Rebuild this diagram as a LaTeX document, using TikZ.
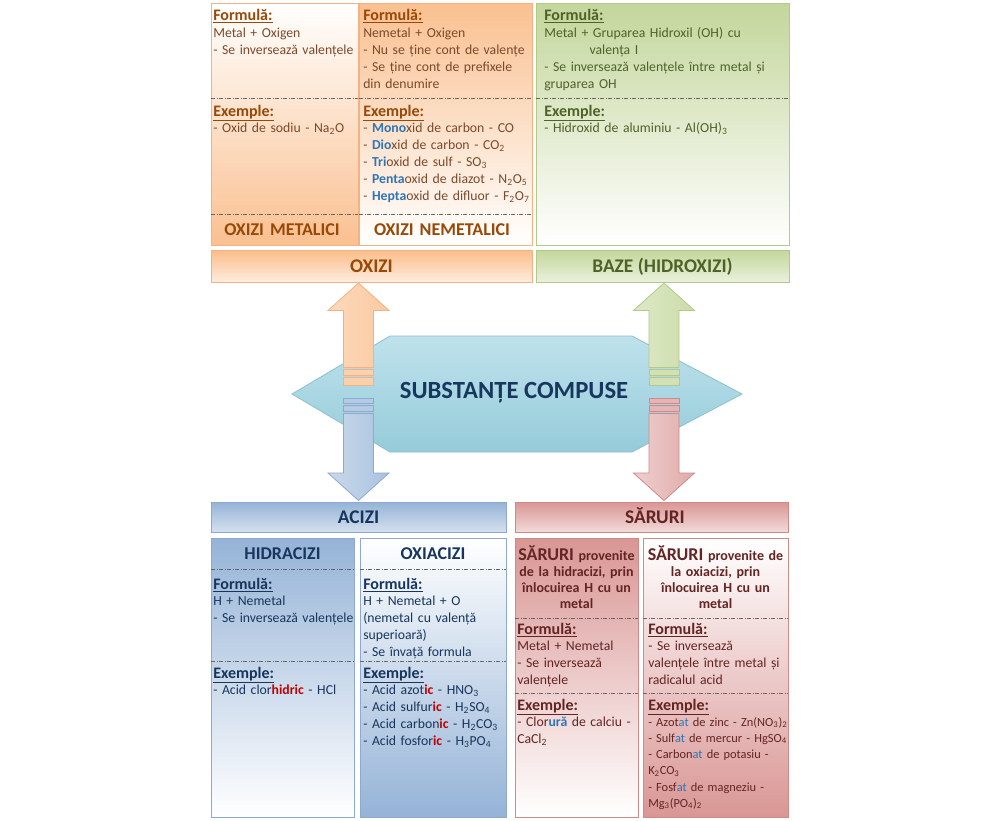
\documentclass[tikz,border=0pt]{standalone}
\usepackage{fontspec}
\setmainfont{Carlito}
\usetikzlibrary{shadows}

% palette
\definecolor{orF}{HTML}{FAC090}
\definecolor{orL}{HTML}{F4B183}
\definecolor{orT}{HTML}{984807}
\definecolor{orB}{HTML}{7A4A2B}
\definecolor{grF}{HTML}{C3D69B}
\definecolor{grL}{HTML}{B3C98A}
\definecolor{grT}{HTML}{4F6228}
\definecolor{blF}{HTML}{95B3D7}
\definecolor{blL}{HTML}{8EA9CF}
\definecolor{blT}{HTML}{17365D}
\definecolor{rdF}{HTML}{D99694}
\definecolor{rdL}{HTML}{CF8A88}
\definecolor{rdT}{HTML}{632523}
\definecolor{hexTop}{HTML}{BEE2EC}
\definecolor{hexBot}{HTML}{96CBDA}
\definecolor{hexL}{HTML}{8CC0CF}
\definecolor{hexT}{HTML}{17375E}
\definecolor{prefblue}{HTML}{2E75B6}
\definecolor{prefred}{HTML}{C00000}

% text helpers
\newcommand\hd[1]{{\fontsize{12}{12.7}\selectfont\bfseries\underline{#1}}}
\newcommand\pb[1]{{\bfseries\color{prefblue}#1}}
\newcommand\pc[1]{{\color{prefblue}#1}}
\newcommand\rc[1]{{\bfseries\color{prefred}#1}}
\newcommand\bigsar{\fontsize{13.5}{12}\selectfont}
\newcommand\chs[1]{\textsubscript{#1}}

\tikzset{
  cardbox/.style={line width=0.6pt, drop shadow={opacity=0.22, shadow xshift=0.7pt, shadow yshift=-0.9pt}},
  sepline/.style={line width=0.55pt, draw=black!60, dash pattern=on 3pt off 1.2pt on 0.6pt off 1.2pt},
  bodytxt/.style={inner sep=0pt, anchor=base west, text width=200pt, align=left, font=\fontsize{10.3}{12.7}\selectfont},
  smalltxt/.style={inner sep=0pt, anchor=base west, text width=200pt, align=left, font=\fontsize{9.3}{12.2}\selectfont},
  cardtitle/.style={inner sep=0pt, anchor=base, text width=150pt, align=center, font=\fontsize{13.5}{15}\selectfont\bfseries},
  saltitle/.style={inner sep=0pt, anchor=base, text width=110pt, align=center, font=\fontsize{10.5}{12}\selectfont\bfseries},
  bartitle/.style={inner sep=0pt, anchor=base, font=\fontsize{14.5}{16}\selectfont\bfseries},
  blockarrow/.style={line width=0.6pt},
}

\begin{document}
\begin{tikzpicture}[x=0.75pt,y=-0.75pt]
\fill[white] (0,0) rectangle (1000,821);
\useasboundingbox (0,0) rectangle (1000,821);

% ---------- top cards ----------
\path[cardbox, draw=orL, top color=white, bottom color=orF] (211,3) rectangle (358,245);
\path[cardbox, draw=orL, top color=orF, bottom color=white] (359,3) rectangle (532,245);
\path[cardbox, draw=grL, top color=grF, bottom color=white] (536,3) rectangle (789,245);
\draw[sepline] (211,98) -- (358,98);
\draw[sepline] (211,214) -- (358,214);
\draw[sepline] (359,98) -- (532,98);
\draw[sepline] (359,214) -- (532,214);
\draw[sepline] (536,98) -- (789,98);

\node[bodytxt, text=orB] (tlF) at (213,20.7) {\textcolor{orT}{\hd{Formulă:}}\\Metal + Oxigen\\- Se inversează valențele};
\node[bodytxt, text=orB] (tlE) at (213,116) {\textcolor{orT}{\hd{Exemple:}}\\- Oxid de sodiu - Na\chs{2}O};
\node[cardtitle, text=orT] (tlT) at (282,235) {OXIZI METALICI};

\node[bodytxt, text=orB] (tmF) at (363,20.7) {\textcolor{orT}{\hd{Formulă:}}\\Nemetal + Oxigen\\- Nu se ține cont de valențe\\- Se ține cont de prefixele\\din denumire};
\node[bodytxt, text=orB] (tmE) at (363,116) {\textcolor{orT}{\hd{Exemple:}}\\- \pb{Mono}xid de carbon - CO\\- \pb{Dio}xid de carbon - CO\chs{2}\\- \pb{Tri}oxid de sulf - SO\chs{3}\\- \pb{Penta}oxid de diazot - N\chs{2}O\chs{5}\\- \pb{Hepta}oxid de difluor - F\chs{2}O\chs{7}};
\node[cardtitle, text=orT] (tmT) at (442,235) {OXIZI NEMETALICI};

\node[bodytxt, text=grT] (trF) at (544,20.7) {\hd{Formulă:}\\Metal + Gruparea Hidroxil (OH) cu\\\hspace*{34pt}valența I\\- Se inversează valențele între metal și\\gruparea OH};
\node[bodytxt, text=grT] (trE) at (544,116) {\hd{Exemple:}\\- Hidroxid de aluminiu - Al(OH)\chs{3}};

% ---------- top bars ----------
\path[cardbox, draw=orL, top color=orF!95!orange, bottom color=orF!30!white] (211,250) rectangle (532,282);
\path[cardbox, draw=grL, top color=grF, bottom color=grF!35!white] (536,250) rectangle (789,282);
\node[bartitle, text=orT] (oxizi) at (371.5,272) {OXIZI};
\node[bartitle, text=grT] (baze) at (662.5,272) {BAZE (HIDROXIZI)};

% ---------- central hexagon ----------
\path[line width=0.6pt, draw=hexL, top color=hexTop, bottom color=hexBot]
  (292,394) -- (390,336) -- (632,336) -- (742,394) -- (632,452) -- (390,452) -- cycle;
\node[inner sep=0pt, anchor=base, text=hexT, font=\fontsize{18.5}{20}\selectfont\bfseries] (hex) at (514,398) {SUBSTANȚE COMPUSE};

% ---------- block arrows ----------
% up to OXIZI
\path[blockarrow, draw=orL, left color=orF!60!white, right color=orF!85!white]
  (358.5,283) -- (389,310.5) -- (373.5,310.5) -- (373.5,367.5) -- (343.5,367.5) -- (343.5,310.5) -- (328,310.5) -- cycle;
\path[blockarrow, draw=orL, fill=orF!75!white] (343.5,369.5) rectangle (373.5,375.5);
\path[blockarrow, draw=orL, fill=orF!75!white] (343.5,377.5) rectangle (373.5,385);
% up to BAZE
\path[blockarrow, draw=grL, left color=grF!55!white, right color=grF!85!white]
  (664,283) -- (694.5,310.5) -- (679,310.5) -- (679,367.5) -- (649,367.5) -- (649,310.5) -- (633.5,310.5) -- cycle;
\path[blockarrow, draw=grL, fill=grF!75!white] (649,369.5) rectangle (679,375.5);
\path[blockarrow, draw=grL, fill=grF!75!white] (649,377.5) rectangle (679,385);
% down to ACIZI
\path[blockarrow, draw=blL, fill=blF!70!white] (343.5,398) rectangle (373.5,403.5);
\path[blockarrow, draw=blL, fill=blF!70!white] (343.5,405.5) rectangle (373.5,411.5);
\path[blockarrow, draw=blL, left color=blF!50!white, right color=blF!80!white]
  (343.5,413.5) -- (373.5,413.5) -- (373.5,473) -- (389,473) -- (358.5,500.5) -- (328,473) -- (343.5,473) -- cycle;
% down to SARURI
\path[blockarrow, draw=rdL, fill=rdF!70!white] (649,398) rectangle (679,403.5);
\path[blockarrow, draw=rdL, fill=rdF!70!white] (649,405.5) rectangle (679,411.5);
\path[blockarrow, draw=rdL, left color=rdF!45!white, right color=rdF!80!white]
  (649,413.5) -- (679,413.5) -- (679,473) -- (694.5,473) -- (664,500.5) -- (633.5,473) -- (649,473) -- cycle;

% ---------- bottom bars ----------
\path[cardbox, draw=blL, top color=blF, bottom color=blF!40!white] (211,502) rectangle (506,532);
\path[cardbox, draw=rdL, top color=rdF, bottom color=rdF!35!white] (515,502) rectangle (788,532);
\node[bartitle, text=blT] (acizi) at (358.5,523.5) {ACIZI};
\node[bartitle, text=rdT] (saruri) at (655,523.5) {SĂRURI};

% ---------- acid cards ----------
\path[cardbox, draw=blL, top color=blF, bottom color=white] (211,538) rectangle (354,817);
\path[cardbox, draw=blL, top color=white, bottom color=blF] (360,538) rectangle (506,817);
\draw[sepline] (211,569) -- (354,569);
\draw[sepline] (211,661) -- (354,661);
\draw[sepline] (360,569) -- (506,569);
\draw[sepline] (360,661) -- (506,661);

\node[cardtitle, text=blT] (hidT) at (282.5,559) {HIDRACIZI};
\node[bodytxt, text=blT] (hidF) at (213,589) {\hd{Formulă:}\\H + Nemetal\\- Se inversează valențele};
\node[bodytxt, text=blT] (hidE) at (213,678) {\hd{Exemple:}\\- Acid clor\rc{hidric} - HCl};

\node[cardtitle, text=blT] (oxaT) at (433,559) {OXIACIZI};
\node[bodytxt, text=blT] (oxaF) at (363,589) {\hd{Formulă:}\\H + Nemetal + O\\(nemetal cu valență\\superioară)\\- Se învață formula};
\node[bodytxt, text=blT] (oxaE) at (363,678) {\hd{Exemple:}\\- Acid azot\rc{ic} - HNO\chs{3}\\- Acid sulfur\rc{ic} - H\chs{2}SO\chs{4}\\- Acid carbon\rc{ic} - H\chs{2}CO\chs{3}\\- Acid fosfor\rc{ic} - H\chs{3}PO\chs{4}};

% ---------- salt cards ----------
\path[cardbox, draw=rdL, top color=rdF, bottom color=white] (515,538) rectangle (638,817);
\path[cardbox, draw=rdL, top color=white, bottom color=rdF] (643,538) rectangle (788,817);
\draw[sepline] (515,618) -- (638,618);
\draw[sepline] (515,693) -- (638,693);
\draw[sepline] (643,618) -- (788,618);
\draw[sepline] (643,693) -- (788,693);

\node[saltitle, text=rdT] (s1T) at (576.5,560) {{\bigsar SĂRURI} provenite\\de la hidracizi, prin\\înlocuirea H cu un\\metal};
\node[bodytxt, text=rdT] (s1F) at (517,634) {\hd{Formulă:}\\Metal + Nemetal\\- Se inversează\\valențele};
\node[bodytxt, text=rdT] (s1E) at (517,710) {\hd{Exemple:}\\- Clor\pb{ură} de calciu -\\CaCl\chs{2}};

\node[saltitle, text=rdT] (s2T) at (715.5,560) {{\bigsar SĂRURI} provenite de\\la oxiacizi, prin\\înlocuirea H cu un\\metal};
\node[bodytxt, text=rdT] (s2F) at (648,634) {\hd{Formulă:}\\- Se inversează\\valențele între metal și\\radicalul acid};
\node[bodytxt, text=rdT] (s2E) at (648,710) {\hd{Exemple:}};
\node[smalltxt, text=rdT] (s2L) at (648,726) {- Azot\pc{at} de zinc - Zn(NO\chs{3})\chs{2}\\- Sulf\pc{at} de mercur - HgSO\chs{4}\\- Carbon\pc{at} de potasiu -\\K\chs{2}CO\chs{3}\\- Fosf\pc{at} de magneziu -\\Mg\chs{3}(PO\chs{4})\chs{2}};
\end{tikzpicture}
\end{document}
